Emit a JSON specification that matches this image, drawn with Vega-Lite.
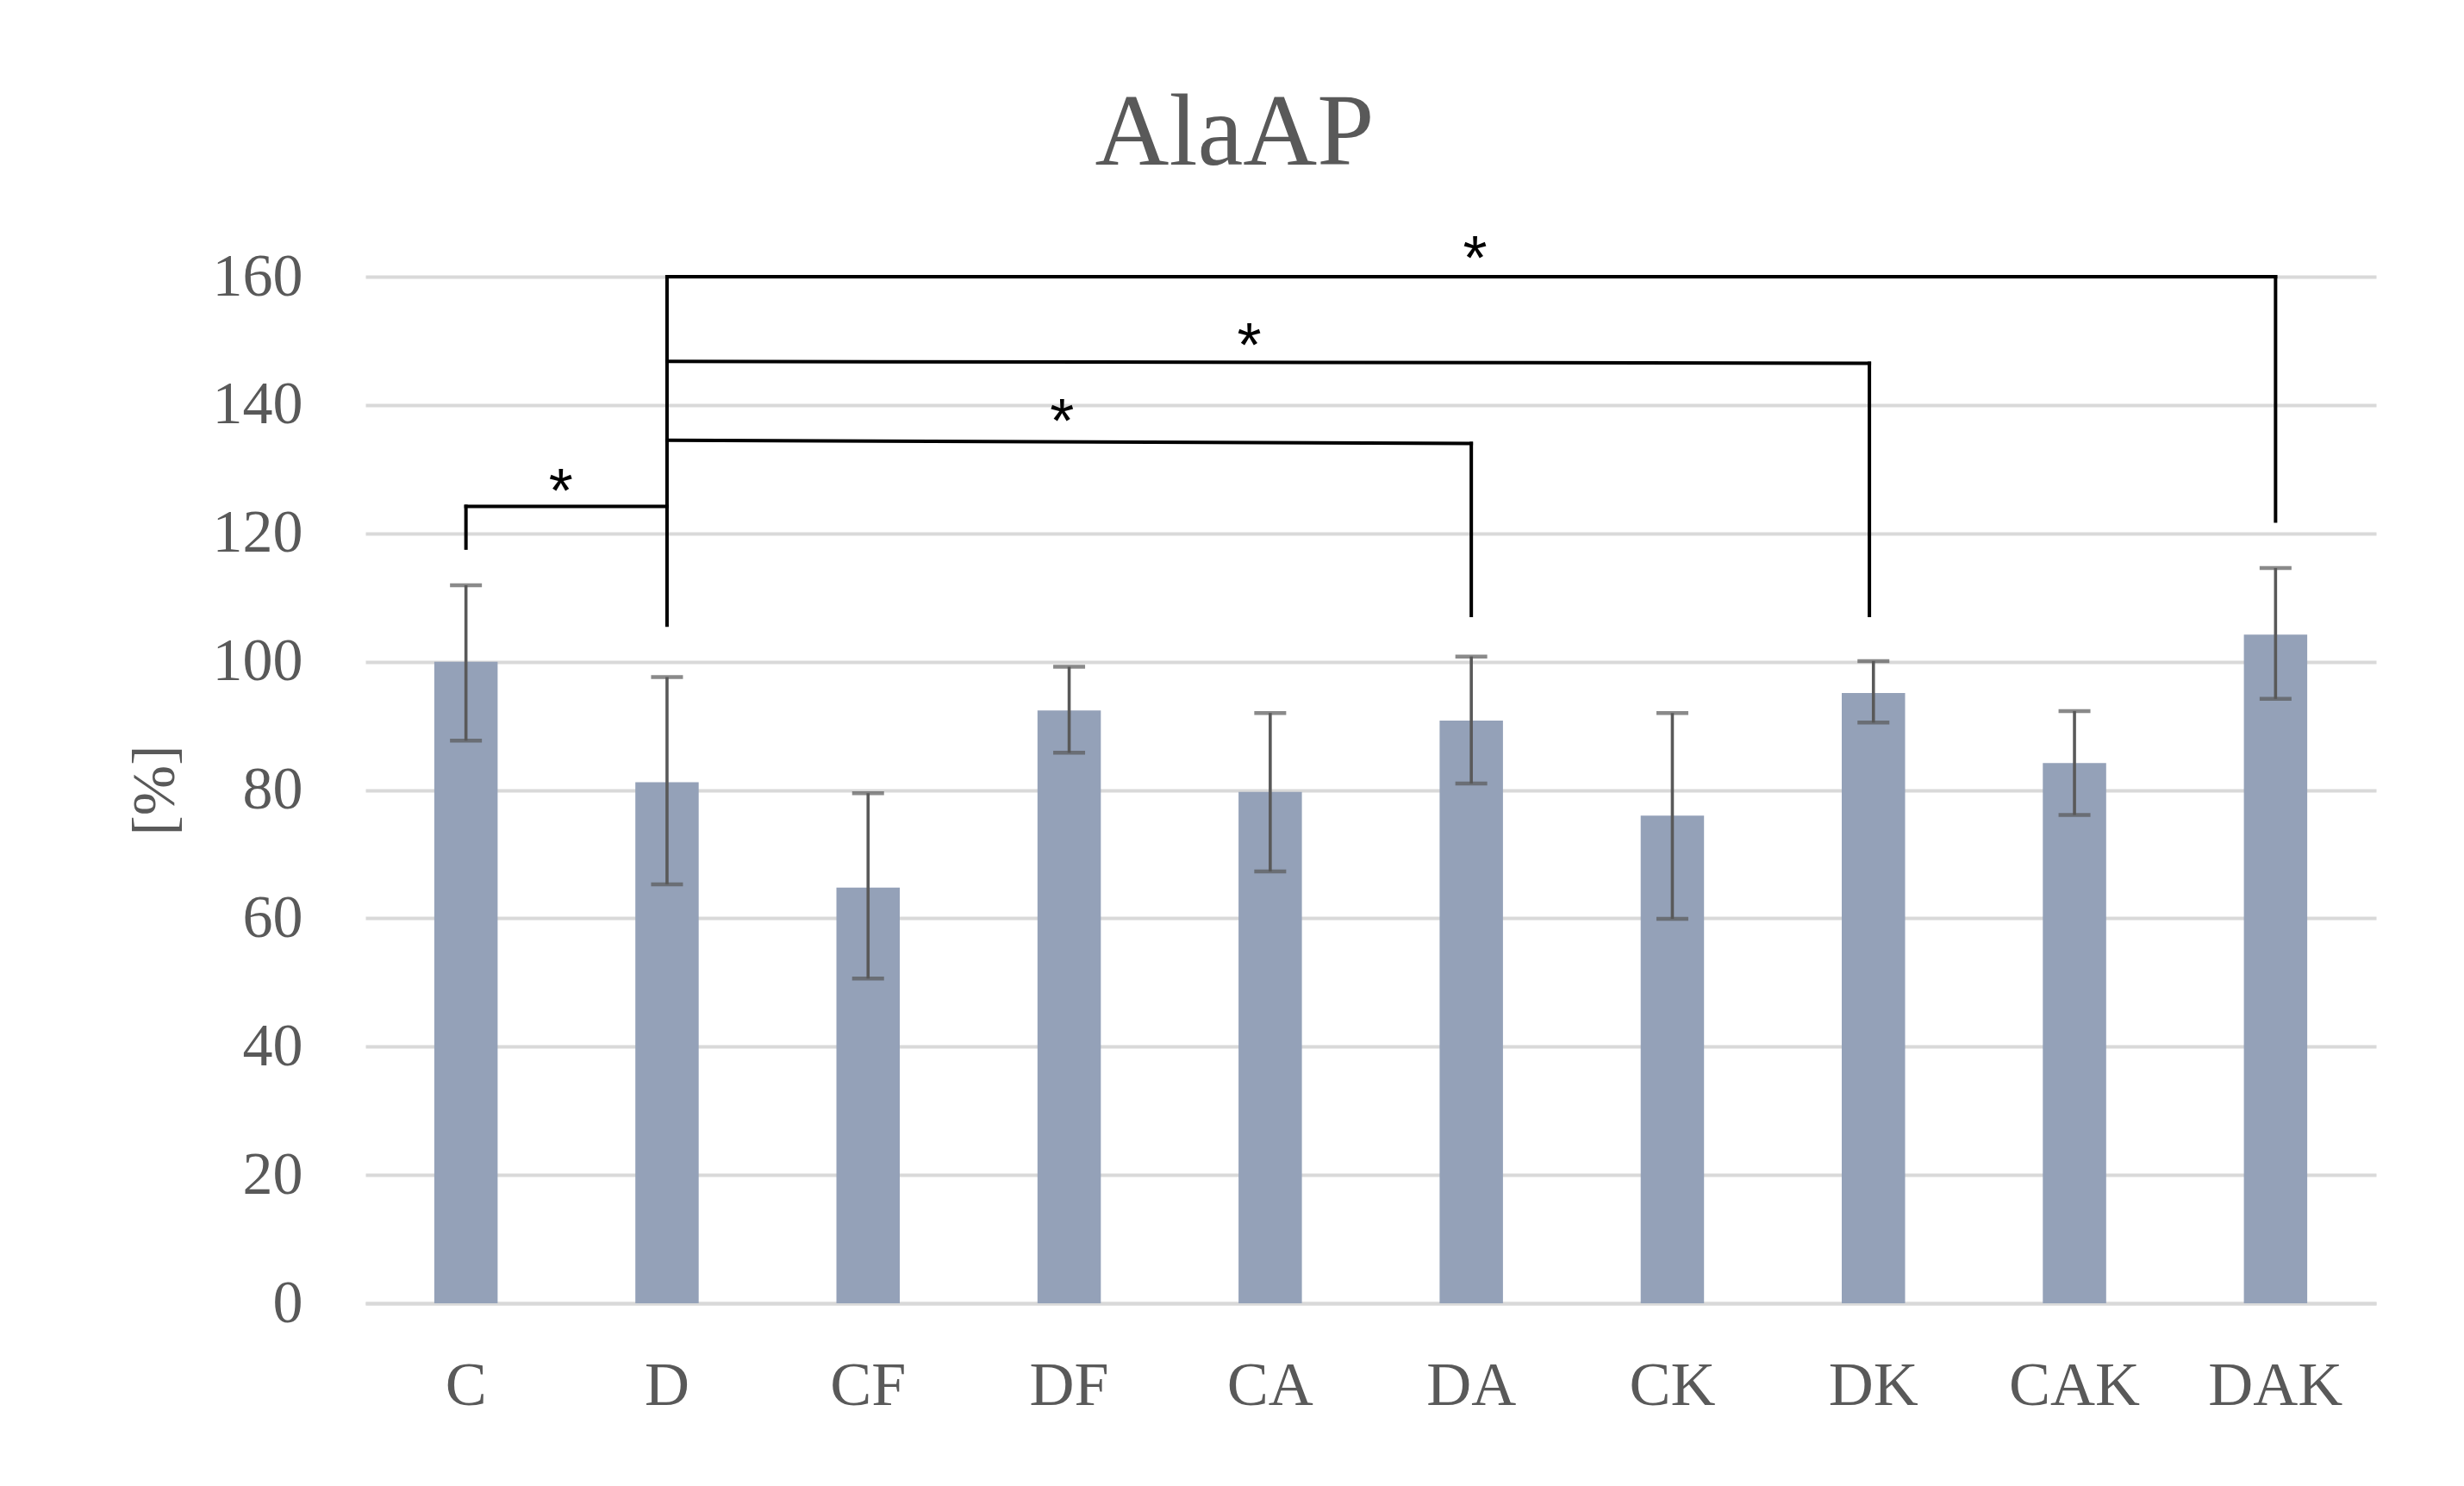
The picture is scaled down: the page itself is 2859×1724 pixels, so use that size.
{
  "$schema": "https://vega.github.io/schema/vega-lite/v6.json",
  "width": 2333,
  "height": 1191,
  "autosize": {"type": "none"},
  "padding": {"left": 424, "top": 321, "right": 102, "bottom": 212},
  "background": "white",
  "title": {"text": "AlaAP", "font": "Liberation Serif", "fontSize": 119, "fontWeight": "normal", "color": "#595959", "anchor": "middle", "dx": -158, "offset": 50},
  "datasets": {
    "bars": [
      {"cat": "C", "mean": 100.0, "lo": 87.7, "hi": 111.9},
      {"cat": "D", "mean": 81.2, "lo": 65.3, "hi": 97.6},
      {"cat": "CF", "mean": 64.8, "lo": 50.6, "hi": 79.5},
      {"cat": "DF", "mean": 92.4, "lo": 85.8, "hi": 99.2},
      {"cat": "CA", "mean": 79.7, "lo": 67.3, "hi": 92.0},
      {"cat": "DA", "mean": 90.8, "lo": 81.0, "hi": 100.8},
      {"cat": "CK", "mean": 76.0, "lo": 59.9, "hi": 92.0},
      {"cat": "DK", "mean": 95.1, "lo": 90.5, "hi": 100.1},
      {"cat": "CAK", "mean": 84.2, "lo": 76.1, "hi": 92.3},
      {"cat": "DAK", "mean": 104.2, "lo": 94.2, "hi": 114.6}
    ],
    "brackets": [
      {"xa": 0, "xb": 0, "ya": 117.7, "yb": 124.2},
      {"xa": 0, "xb": 1, "ya": 124.2, "yb": 124.2},
      {"xa": 1, "xb": 1, "ya": 105.7, "yb": 160},
      {"xa": 1, "xb": 5, "ya": 134.5, "yb": 134.0},
      {"xa": 5, "xb": 5, "ya": 107.2, "yb": 134.0},
      {"xa": 1, "xb": 6.98, "ya": 146.8, "yb": 146.5},
      {"xa": 6.98, "xb": 6.98, "ya": 107.2, "yb": 146.5},
      {"xa": 1, "xb": 9, "ya": 160, "yb": 160},
      {"xa": 9, "xb": 9, "ya": 121.9, "yb": 160}
    ],
    "stars": [
      {"pos": 0.472, "y": 128.2, "label": "*"},
      {"pos": 2.964, "y": 139.0, "label": "*"},
      {"pos": 3.896, "y": 150.9, "label": "*"},
      {"pos": 5.019, "y": 164.4, "label": "*"}
    ]
  },
  "layer": [
    {
      "data": {"name": "bars"},
      "encoding": {
        "x": {
          "field": "cat", "type": "nominal", "sort": null,
          "scale": {"paddingInner": 0.685, "paddingOuter": 0.3425},
          "axis": {"title": null, "labelAngle": 0, "ticks": false, "grid": false, "domain": true, "domainColor": "#D9D9D9", "domainWidth": 4, "labelFont": "Liberation Serif", "labelFontSize": 72, "labelColor": "#595959", "labelPadding": 60}
        }
      },
      "layer": [
        {
          "mark": {"type": "bar", "color": "#94A1B8"},
          "encoding": {
            "y": {
              "field": "mean", "type": "quantitative",
              "scale": {"domain": [0, 160], "nice": false},
              "axis": {"values": [0, 20, 40, 60, 80, 100, 120, 140, 160], "grid": true, "gridColor": "#D9D9D9", "gridWidth": 4, "domain": false, "ticks": false, "labelFont": "Liberation Serif", "labelFontSize": 70, "labelColor": "#595959", "labelPadding": 73, "title": "[%]", "titleFont": "Liberation Serif", "titleFontSize": 70, "titleFontWeight": "normal", "titleColor": "#595959", "titlePadding": 30}
            }
          }
        },
        {
          "mark": {"type": "rule", "color": "#595959", "strokeWidth": 3.6},
          "encoding": {
            "y": {"field": "lo", "type": "quantitative"},
            "y2": {"field": "hi"}
          }
        },
        {
          "mark": {"type": "tick", "color": "#595959", "size": 37, "thickness": 4.5},
          "encoding": {"y": {"field": "lo", "type": "quantitative"}}
        },
        {
          "mark": {"type": "tick", "color": "#595959", "size": 37, "thickness": 4.5},
          "encoding": {"y": {"field": "hi", "type": "quantitative"}}
        }
      ]
    },
    {
      "layer": [
        {
          "data": {"name": "brackets"},
          "mark": {"type": "rule", "color": "black", "strokeWidth": 4, "strokeCap": "square"},
          "encoding": {
            "x": {"field": "xa", "type": "quantitative", "scale": {"domain": [-0.5, 9.5], "nice": false, "zero": false}, "axis": null},
            "x2": {"field": "xb"},
            "y": {"field": "ya", "type": "quantitative", "title": "[%]"},
            "y2": {"field": "yb"}
          }
        },
        {
          "data": {"name": "stars"},
          "mark": {"type": "text", "font": "Liberation Sans", "fontSize": 72, "color": "black", "baseline": "middle", "align": "center", "dy": 14},
          "encoding": {
            "x": {"field": "pos", "type": "quantitative", "scale": {"domain": [-0.5, 9.5], "nice": false, "zero": false}, "axis": null},
            "y": {"field": "y", "type": "quantitative", "title": "[%]"},
            "text": {"field": "label"}
          }
        }
      ]
    }
  ],
  "resolve": {"scale": {"x": "independent"}},
  "config": {"view": {"stroke": null}}
}
